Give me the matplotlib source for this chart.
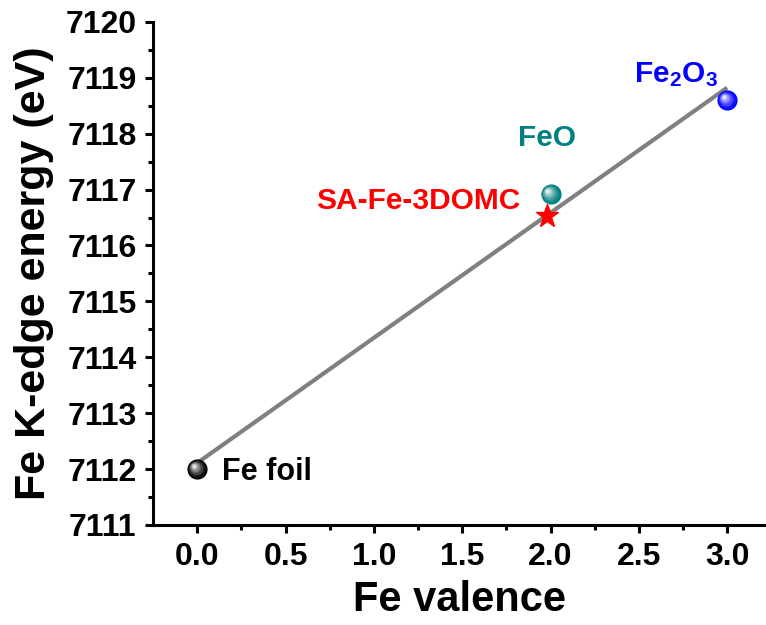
import numpy as np
import matplotlib
matplotlib.use('Agg')
import matplotlib.pyplot as plt
import matplotlib.transforms as mtransforms
from matplotlib.colors import to_rgb

plt.rcParams['font.family'] = 'Liberation Sans'
plt.rcParams['font.weight'] = 'bold'
plt.rcParams['mathtext.fontset'] = 'custom'
plt.rcParams['mathtext.bf'] = 'Liberation Sans:bold'
plt.rcParams['mathtext.rm'] = 'Liberation Sans:bold'

# reference samples (valence, edge energy)
ref_names = ['Fe foil', 'FeO', r'$\mathbf{Fe_2O_3}$']
ref_valence = [0.0, 2.0, 3.0]
ref_energy = [7112.0, 7116.92, 7118.6]
ref_colors = ['#000000', '#008080', '#0000ff']

# sample
sample_name = 'SA-Fe-3DOMC'
sample_valence = [1.98]
sample_energy = [7116.52]

xticks = [0.0, 0.5, 1.0, 1.5, 2.0, 2.5, 3.0]
yticks = [7111, 7112, 7113, 7114, 7115, 7116, 7117, 7118, 7119, 7120]

fig = plt.figure(figsize=(7.66, 6.25), dpi=100)
ax = fig.add_axes([0.2, 0.16, 0.8, 0.805])

# linear fit through reference points
k, b = np.polyfit(ref_valence, ref_energy, 1)
fx = np.array([ref_valence[0], ref_valence[-1]])
ax.plot(fx, k * fx + b, color='#808080', lw=3, zorder=2, solid_capstyle='butt')


def sphere(x, y, color, size=14.5):
    base = np.array(to_rgb(color))
    n = 8
    for i in range(n):
        f = i / (n - 1)
        c = base + (1 - base) * (f ** 1.4) * 0.9
        s = size * (1 - 0.82 * f)
        off = mtransforms.offset_copy(ax.transData, fig=fig, x=-2.4 * f, y=2.4 * f, units='points')
        ax.plot(x, y, 'o', ms=s, color=c, mec='none', transform=off, zorder=3 + i * 0.01)


for vx, vy, c in zip(ref_valence, ref_energy, ref_colors):
    sphere(vx, vy, c)

ax.plot(sample_valence, sample_energy, '*', ms=17, color='red', mec='red', zorder=4)

# labels
ax.text(0.14, 7111.95, ref_names[0], color=ref_colors[0], fontsize=22, fontweight='bold', ha='left', va='center')
ax.text(1.98, 7117.93, ref_names[1], color=ref_colors[1], fontsize=21.5, fontweight='bold', ha='center', va='center')
ax.text(2.71, 7119.05, ref_names[2], color=ref_colors[2], fontsize=21.5, ha='center', va='center')
ax.text(1.25, 7116.8, sample_name, color='red', fontsize=21.5, fontweight='bold', ha='center', va='center')

ax.set_xlim(-0.25, 3.22)
ax.set_ylim(7111, 7120)
ax.set_xticks(xticks)
ax.set_xticklabels(['%.1f' % v for v in xticks])
ax.set_yticks(yticks)
ax.set_xticks(np.arange(0.25, 3.2, 0.5), minor=True)
ax.set_yticks(np.arange(7111.5, 7120, 1.0), minor=True)

for s in ['top', 'right']:
    ax.spines[s].set_visible(False)
for s in ['left', 'bottom']:
    ax.spines[s].set_linewidth(2.2)

ax.tick_params(which='major', direction='out', length=6, width=2.2, labelsize=23, pad=6)
ax.tick_params(which='minor', direction='out', length=3.5, width=2.2)
for lab in ax.get_xticklabels() + ax.get_yticklabels():
    lab.set_fontweight('bold')

ax.set_xlabel('Fe valence', fontsize=30, fontweight='bold', labelpad=6)
ax.set_ylabel('Fe K-edge energy (eV)', fontsize=31, fontweight='bold', labelpad=8)

fig.savefig('out.png', dpi=100)
